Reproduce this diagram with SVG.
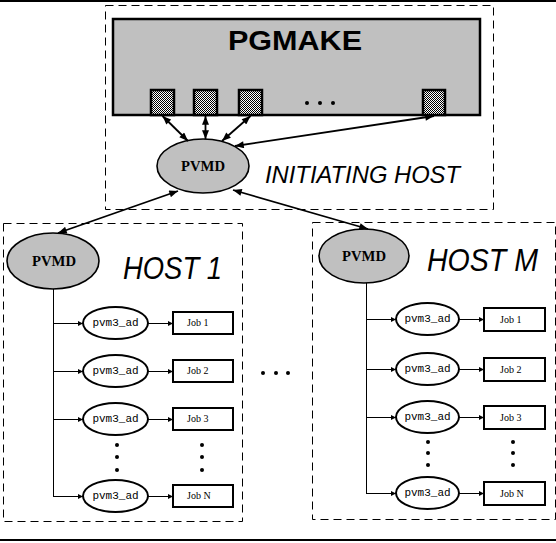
<svg xmlns="http://www.w3.org/2000/svg" width="556" height="543" viewBox="0 0 556 543">
<style>
.dash{fill:none;stroke:#000;stroke-width:1;stroke-dasharray:8 5}
.pvmd{fill:#c0c0c0;stroke:#000;stroke-width:1.6}
.pvmdt{font-family:"Liberation Serif",serif;font-weight:bold;font-size:14px;text-anchor:middle}
.ad{fill:#fff;stroke:#000;stroke-width:2}
.adt{font-family:"Liberation Mono",monospace;font-size:11px;text-anchor:middle}
.job{fill:#fff;stroke:#000;stroke-width:2}
.jobt{font-family:"Liberation Serif",serif;font-size:10px}
.host{font-family:"Liberation Sans",Arial,sans-serif;font-style:italic;font-size:31px}
.big{stroke:#000;stroke-width:1.8;fill:none}
.br{stroke:#000;stroke-width:1;fill:none}
.sq{fill:url(#chk);stroke:#000;stroke-width:2.5}
</style>
<defs>
<pattern id="chk" width="2" height="2" patternUnits="userSpaceOnUse">
<rect width="2" height="2" fill="#fff"/>
<rect width="1" height="1" fill="#000"/>
<rect x="1" y="1" width="1" height="1" fill="#000"/>
</pattern>
<marker id="ah" viewBox="0 0 10 8" refX="10" refY="4" markerWidth="10" markerHeight="7" markerUnits="userSpaceOnUse" orient="auto-start-reverse">
<path d="M0,0 L10,4 L0,8 z" fill="#000"/>
</marker>
<marker id="sh" viewBox="0 0 6 6" refX="6" refY="3" markerWidth="6" markerHeight="5" markerUnits="userSpaceOnUse" orient="auto">
<path d="M0,0 L6,3 L0,6 z" fill="#000"/>
</marker>
</defs>
<rect x="0" y="0" width="556" height="2" fill="#000"/>
<rect x="0" y="539" width="556" height="2" fill="#000"/>

<g id="initiating-host">
<rect class="dash" x="105.5" y="5.5" width="388" height="204"/>
<text x="265" y="183" font-family="Liberation Sans,Arial,sans-serif" font-style="italic" font-size="24" textLength="195" lengthAdjust="spacingAndGlyphs">INITIATING HOST</text>
</g>
<g id="pgmake">
<rect x="113" y="19" width="367" height="96" fill="#c0c0c0" stroke="#000" stroke-width="2.5"/>
<text x="295" y="50" font-family="Liberation Sans,Arial,sans-serif" font-weight="bold" font-size="27" text-anchor="middle" textLength="134" lengthAdjust="spacingAndGlyphs">PGMAKE</text>
<rect class="sq" x="151" y="90" width="23" height="25"/>
<rect class="sq" x="194" y="90" width="23" height="25"/>
<rect class="sq" x="239" y="90" width="23" height="25"/>
<rect class="sq" x="423" y="90" width="22" height="25"/>
<circle cx="307" cy="103" r="2"/><circle cx="320" cy="103" r="2"/><circle cx="333" cy="103" r="2"/>
</g>
<g id="pvmd-init">
<ellipse class="pvmd" cx="203" cy="166" rx="46" ry="27"/>
<text class="pvmdt" x="203" y="171" textLength="44" lengthAdjust="spacingAndGlyphs">PVMD</text>
</g>

<g id="host1">
<rect class="dash" x="3.5" y="223.5" width="239" height="298"/>
<text class="host" x="123" y="279" textLength="99" lengthAdjust="spacingAndGlyphs">HOST 1</text>
</g>
<g id="pvmd-host1">
<ellipse class="pvmd" cx="53" cy="261" rx="46" ry="28"/>
<text class="pvmdt" x="54" y="266" textLength="44" lengthAdjust="spacingAndGlyphs">PVMD</text>
</g>
<g id="h1-ad1"><ellipse class="ad" cx="115.5" cy="323" rx="32.5" ry="16"/><text class="adt" x="115.5" y="326">pvm3_ad</text></g>
<g id="h1-ad2"><ellipse class="ad" cx="115.5" cy="371" rx="32.5" ry="16"/><text class="adt" x="115.5" y="374">pvm3_ad</text></g>
<g id="h1-ad3"><ellipse class="ad" cx="115.5" cy="419" rx="32.5" ry="16"/><text class="adt" x="115.5" y="422">pvm3_ad</text></g>
<g id="h1-adN"><ellipse class="ad" cx="115.5" cy="496" rx="32.5" ry="16"/><text class="adt" x="115.5" y="499">pvm3_ad</text></g>
<g id="h1-job1"><rect class="job" x="173" y="312" width="60" height="22"/><text class="jobt" x="187" y="326">Job 1</text></g>
<g id="h1-job2"><rect class="job" x="173" y="360" width="60" height="22"/><text class="jobt" x="187" y="374">Job 2</text></g>
<g id="h1-job3"><rect class="job" x="173" y="408" width="60" height="22"/><text class="jobt" x="187" y="422">Job 3</text></g>
<g id="h1-jobN"><rect class="job" x="173" y="485" width="60" height="22"/><text class="jobt" x="187" y="499">Job N</text></g>
<g id="h1-dots">
<circle cx="117" cy="445" r="2"/><circle cx="117" cy="457" r="2"/><circle cx="117" cy="470" r="2"/>
<circle cx="202" cy="445" r="2"/><circle cx="202" cy="457" r="2"/><circle cx="202" cy="470" r="2"/>
</g>

<g id="between-dots"><circle cx="263" cy="373" r="2"/><circle cx="276" cy="373" r="2"/><circle cx="288" cy="373" r="2"/></g>

<g id="hostM">
<rect class="dash" x="312.5" y="222.5" width="243" height="297"/>
<text class="host" x="427" y="271" textLength="111" lengthAdjust="spacingAndGlyphs">HOST M</text>
</g>
<g id="pvmd-hostM">
<ellipse class="pvmd" cx="364" cy="256" rx="45" ry="27"/>
<text class="pvmdt" x="364" y="261" textLength="44" lengthAdjust="spacingAndGlyphs">PVMD</text>
</g>
<g id="hM-ad1"><ellipse class="ad" cx="427.5" cy="319" rx="31.5" ry="16"/><text class="adt" x="427.5" y="322">pvm3_ad</text></g>
<g id="hM-ad2"><ellipse class="ad" cx="427.5" cy="369" rx="31.5" ry="16"/><text class="adt" x="427.5" y="372">pvm3_ad</text></g>
<g id="hM-ad3"><ellipse class="ad" cx="427.5" cy="417" rx="31.5" ry="16"/><text class="adt" x="427.5" y="420">pvm3_ad</text></g>
<g id="hM-adN"><ellipse class="ad" cx="427.5" cy="493" rx="31.5" ry="16"/><text class="adt" x="427.5" y="496">pvm3_ad</text></g>
<g id="hM-job1"><rect class="job" x="484" y="308" width="61" height="23"/><text class="jobt" x="500" y="323">Job 1</text></g>
<g id="hM-job2"><rect class="job" x="484" y="358" width="61" height="23"/><text class="jobt" x="500" y="373">Job 2</text></g>
<g id="hM-job3"><rect class="job" x="484" y="406" width="61" height="23"/><text class="jobt" x="500" y="421">Job 3</text></g>
<g id="hM-jobN"><rect class="job" x="484" y="482" width="61" height="23"/><text class="jobt" x="500" y="497">Job N</text></g>
<g id="hM-dots">
<circle cx="428" cy="442" r="2"/><circle cx="428" cy="453" r="2"/><circle cx="428" cy="465" r="2"/>
<circle cx="513" cy="442" r="2"/><circle cx="513" cy="453" r="2"/><circle cx="513" cy="465" r="2"/>
</g>

<g id="connectors">
<line class="big" x1="162.5" y1="116" x2="188" y2="141" marker-start="url(#ah)" marker-end="url(#ah)"/>
<line class="big" x1="205.5" y1="116" x2="205.5" y2="139" marker-start="url(#ah)" marker-end="url(#ah)"/>
<line class="big" x1="250.5" y1="116" x2="222" y2="141" marker-start="url(#ah)" marker-end="url(#ah)"/>
<line class="big" x1="434" y1="116" x2="235" y2="146" marker-start="url(#ah)" marker-end="url(#ah)"/>
<line class="big" x1="178" y1="191" x2="58" y2="233" marker-start="url(#ah)" marker-end="url(#ah)"/>
<line class="big" x1="233" y1="190" x2="368" y2="229" marker-start="url(#ah)" marker-end="url(#ah)"/>

<polyline class="br" points="53.5,289 53.5,496.5"/>
<line class="br" x1="53" y1="323.5" x2="83" y2="323.5" marker-end="url(#sh)"/>
<line class="br" x1="53" y1="371.5" x2="83" y2="371.5" marker-end="url(#sh)"/>
<line class="br" x1="53" y1="419.5" x2="83" y2="419.5" marker-end="url(#sh)"/>
<line class="br" x1="53" y1="496.5" x2="83" y2="496.5" marker-end="url(#sh)"/>
<line class="br" x1="148" y1="323.5" x2="173" y2="323.5" marker-end="url(#sh)"/>
<line class="br" x1="148" y1="371.5" x2="173" y2="371.5" marker-end="url(#sh)"/>
<line class="br" x1="148" y1="419.5" x2="173" y2="419.5" marker-end="url(#sh)"/>
<line class="br" x1="148" y1="496.5" x2="173" y2="496.5" marker-end="url(#sh)"/>

<polyline class="br" points="366.5,283 366.5,493.5"/>
<line class="br" x1="366" y1="319.5" x2="396" y2="319.5" marker-end="url(#sh)"/>
<line class="br" x1="366" y1="369.5" x2="396" y2="369.5" marker-end="url(#sh)"/>
<line class="br" x1="366" y1="417.5" x2="396" y2="417.5" marker-end="url(#sh)"/>
<line class="br" x1="366" y1="493.5" x2="396" y2="493.5" marker-end="url(#sh)"/>
<line class="br" x1="459" y1="319.5" x2="484" y2="319.5" marker-end="url(#sh)"/>
<line class="br" x1="459" y1="369.5" x2="484" y2="369.5" marker-end="url(#sh)"/>
<line class="br" x1="459" y1="417.5" x2="484" y2="417.5" marker-end="url(#sh)"/>
<line class="br" x1="459" y1="493.5" x2="484" y2="493.5" marker-end="url(#sh)"/>
</g>
</svg>
